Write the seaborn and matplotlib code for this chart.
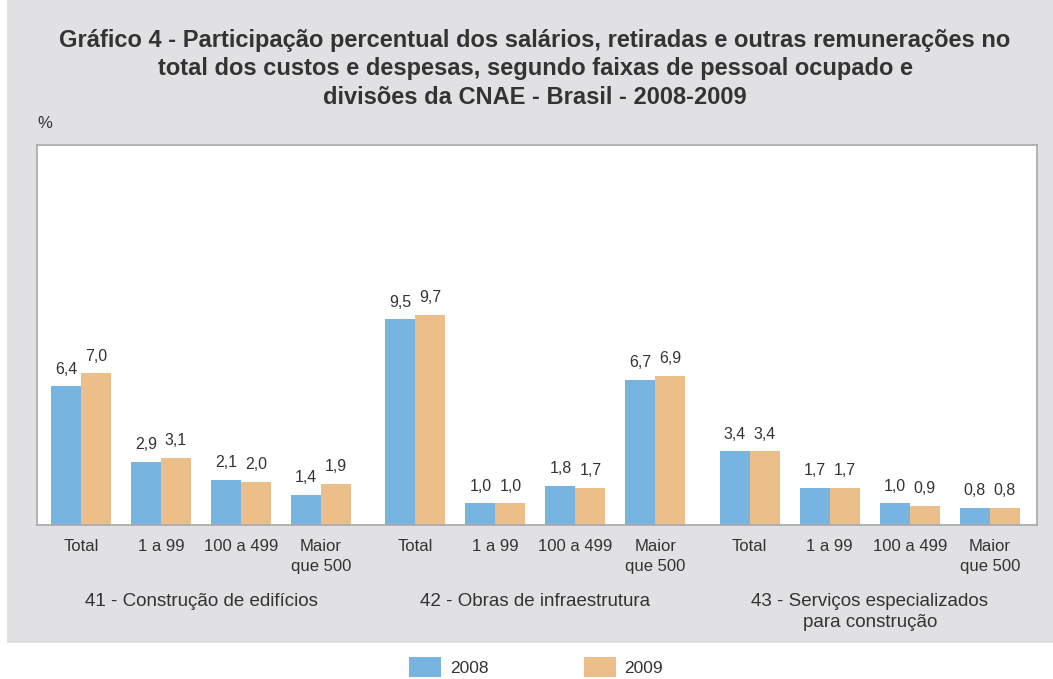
import matplotlib
matplotlib.use("Agg")
import matplotlib.pyplot as plt
import matplotlib.patches as mpatches
import matplotlib.transforms as mtransforms
import pandas as pd
import seaborn as sns

# dados
FAIXAS = ["Total", "1 a 99", "100 a 499", "Maior\nque 500"]
DIVISOES = ["41 - Construção de edifícios", "42 - Obras de infraestrutura",
            "43 - Serviços especializados\npara construção"]
ANOS = ["2008", "2009"]
V2008 = [6.4, 2.9, 2.1, 1.4, 9.5, 1.0, 1.8, 6.7, 3.4, 1.7, 1.0, 0.8]
V2009 = [7.0, 3.1, 2.0, 1.9, 9.7, 1.0, 1.7, 6.9, 3.4, 1.7, 0.9, 0.8]

GAP = 0.18  # espaço extra entre divisões
pos = [d * (len(FAIXAS) + GAP) + i for d in range(len(DIVISOES)) for i in range(len(FAIXAS))]

df = pd.DataFrame({
    "pos": pos * 2,
    "valor": V2008 + V2009,
    "ano": [ANOS[0]] * len(V2008) + [ANOS[1]] * len(V2009),
})

sns.set_theme(style="white")
plt.rcParams["font.family"] = ["Liberation Sans", "DejaVu Sans"]
CORES = {"2008": "#78b4e0", "2009": "#ecbe89"}
TXT = "#333333"

fig = plt.figure(figsize=(10.53, 6.79), dpi=100)
fig.patch.set_facecolor("white")
fig.patches.append(mpatches.Rectangle((7 / 1053, 36 / 679), 1, 1, transform=fig.transFigure,
                                      facecolor="#e1e1e3", edgecolor="none", zorder=-10))
ax = fig.add_axes([37 / 1053, 1 - 525 / 679, 1000 / 1053, 380 / 679])

sns.barplot(data=df, x="pos", y="valor", hue="ano", native_scale=True, palette=CORES,
            saturation=1, width=0.75, edgecolor="none", legend=False, ax=ax)

for c in ax.containers:
    ax.bar_label(c, labels=[f"{v:.1f}".replace(".", ",") for v in c.datavalues],
                 padding=7, fontsize=11.5, color=TXT)

ax.set_xlim(-0.55, pos[-1] + 0.59)
ax.set_ylim(0, 17.55)
ax.set_yticks([])
ax.set_xticks(pos)
ax.set_xticklabels(FAIXAS * len(DIVISOES), fontsize=12, color=TXT, linespacing=1.45)
ax.tick_params(axis="x", length=0, pad=10)
ax.set_xlabel(None)
ax.set_ylabel(None)
ax.set_facecolor("white")
for s in ax.spines.values():
    s.set_color("#a8a8ac")
    s.set_linewidth(1.2)

trans = mtransforms.blended_transform_factory(ax.transData, fig.transFigure)
for d, nome in enumerate(DIVISOES):
    xc = (pos[d * 4] + pos[d * 4 + 3]) / 2
    ax.text(xc, 1 - 593 / 679, nome, transform=trans, ha="center", va="top",
            fontsize=13.5, color=TXT, linespacing=1.3)

fig.text(535 / 1053, 1 - 69 / 679,
         "Gráfico 4 - Participação percentual dos salários, retiradas e outras remunerações no\n"
         "total dos custos e despesas, segundo faixas de pessoal ocupado e\n"
         "divisões da CNAE - Brasil - 2008-2009",
         ha="center", va="center", fontsize=17, fontweight="bold", color=TXT,
         linespacing=1.3)
fig.text(37 / 1053, 1 - 124 / 679, "%", ha="left", va="center", fontsize=12, color=TXT)

handles = [mpatches.Patch(facecolor=CORES[a], edgecolor="none", label=a) for a in ANOS]
fig.legend(handles=handles, loc="center", bbox_to_anchor=(536 / 1053, 1 - 667 / 679), ncol=2,
           frameon=False, fontsize=12.5, handlelength=1.85, handleheight=1.45,
           handletextpad=0.5, columnspacing=5.5, labelcolor=TXT)

fig.savefig("out.png", dpi=100)
